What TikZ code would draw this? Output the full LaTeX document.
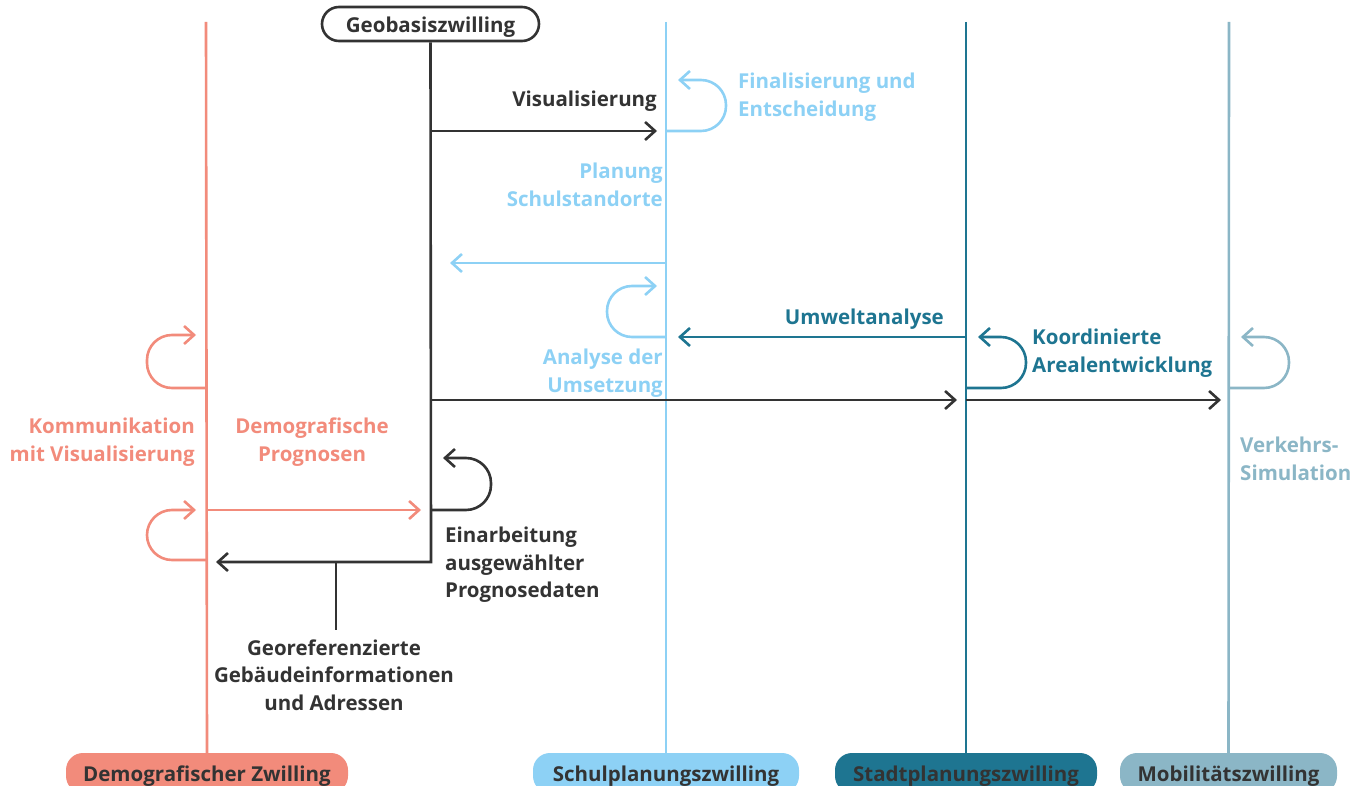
\documentclass[tikz,border=0pt]{standalone}
\usepackage{fontspec}
\setmainfont{Open Sans}
\usetikzlibrary{arrows.meta}
\definecolor{demo}{HTML}{F28B7B}
\definecolor{schul}{HTML}{8DD1F5}
\definecolor{stadt}{HTML}{1E7591}
\definecolor{mobil}{HTML}{8BB6C6}
\definecolor{ink}{HTML}{333333}
\tikzset{
  lane/.style={line width=2.6pt},
  flow/.style={line width=2.6pt,-{Straight Barb[length=10pt,width=18pt]}},
  loopflow/.style={flow,rounded corners=25pt},
  lbl/.style={inner sep=0pt,font=\fontsize{20.5}{27.5}\selectfont\bfseries},
  pill/.style={rounded corners=17pt,minimum height=40pt,inner sep=0pt,text height=16.6pt,text depth=0pt,text=ink,font=\fontsize{20.5}{24}\selectfont\bfseries},
}
\begin{document}
\begin{tikzpicture}[x=1pt,y=-1pt]
\useasboundingbox (0,0) rectangle (1352,786);
\clip (0,0) rectangle (1352,786);
% lane top coordinates
\coordinate (dT) at (206,22);
\coordinate (sT) at (666,22);
\coordinate (tT) at (966,22);
\coordinate (mT) at (1229,22);
% bottom pills
\node[pill,fill=demo,minimum width=282pt] (demoZ) at (207,773) {Demografischer Zwilling};
\node[pill,fill=schul,minimum width=266pt] (schulZ) at (666,773) {Schulplanungszwilling};
\node[pill,fill=stadt,minimum width=262pt] (stadtZ) at (966,773) {Stadtplanungszwilling};
\node[pill,fill=mobil,minimum width=217pt] (mobilZ) at (1228.5,773) {Mobilitätszwilling};
% top node
\node[pill,draw=ink,line width=2.6pt,fill=white,minimum width=217pt,minimum height=34pt] (geo) at (430.5,24) {Geobasiszwilling};
% lanes
\draw[lane,demo] (dT) -- (demoZ.north);
\draw[lane,schul] (sT) -- (schulZ.north);
\draw[lane,stadt] (tT) -- (stadtZ.north);
\draw[lane,mobil] (mT) -- (mobilZ.north);
% geobasis lane with corner
\coordinate (gCorner) at (431,562);
\coordinate (dIn) at (206,562);
\coordinate (gBranch) at (336,562);
\coordinate (gBranchEnd) at (336,630);
\draw[flow,ink] (geo.south) -- (gCorner) -- ([xshift=10pt]dIn);
\draw[lane,ink] (gBranch) -- (gBranchEnd);
% points on lanes
\coordinate (g131) at (431,131); \coordinate (s131) at (666,131);
\coordinate (s263) at (666,263); \coordinate (g263) at (431,263);
\coordinate (s337) at (666,337); \coordinate (t337) at (966,337);
\coordinate (g400) at (431,400); \coordinate (t400) at (966,400); \coordinate (m400) at (1229,400);
\coordinate (d510) at (206,510); \coordinate (g510) at (431,510);
% straight flows
\draw[flow,ink] (g131) -- ([xshift=-9pt]s131);
\draw[flow,schul] (s263) -- ([xshift=19pt]g263);
\draw[flow,stadt] (t337) -- ([xshift=12pt]s337);
\draw[flow,ink] (g400) -- ([xshift=-9pt]t400);
\draw[flow,ink] (t400) -- ([xshift=-8pt]m400);
\draw[flow,demo] (d510) -- ([xshift=-10pt]g510);
% loops
\draw[loopflow,schul] (s131) -- ++(60,0) -- ++(0,-51) -- ++(-48,0);
\draw[loopflow,schul] (666,337) -- ++(-59,0) -- ++(0,-51) -- ++(50,0);
\draw[loopflow,stadt] (966,388) -- ++(60,0) -- ++(0,-51) -- ++(-48,0);
\draw[loopflow,mobil] (1229,388) -- ++(60,0) -- ++(0,-51) -- ++(-48,0);
\draw[loopflow,demo] (206,388) -- ++(-59,0) -- ++(0,-53) -- ++(49,0);
\draw[loopflow,demo] (206,560) -- ++(-59,0) -- ++(0,-50) -- ++(49,0);
\draw[loopflow,ink] (431,510) -- ++(60,0) -- ++(0,-52) -- ++(-48,0);
% labels
\node[lbl,ink,anchor=east] (lVis) at (657,101) {Visualisierung};
\node[lbl,schul,anchor=west,align=left] (lFin) at (738,97) {Finalisierung und\\Entscheidung};
\node[lbl,schul,anchor=east,align=right] (lPlan) at (663,185) {Planung\\Schulstandorte};
\node[lbl,schul,anchor=east,align=right] (lAna) at (663,373) {Analyse der\\Umsetzung};
\node[lbl,stadt,anchor=east] (lUmw) at (944,319) {Umweltanalyse};
\node[lbl,stadt,anchor=west,align=left] (lKoo) at (1032,353) {Koordinierte\\Arealentwicklung};
\node[lbl,mobil,anchor=west,align=left] (lVer) at (1240,459) {Verkehrs-\\Simulation};
\node[lbl,demo,anchor=east,align=right] (lKom) at (195,442) {Kommunikation\\mit Visualisierung};
\node[lbl,demo,align=center] (lDem) at (312,442) {Demografische\\Prognosen};
\node[lbl,ink,anchor=west,align=left] (lEin) at (445,565) {Einarbeitung\\ausgewählter\\Prognosedaten};
\node[lbl,ink,align=center] (lGeo) at (334,675) {Georeferenzierte\\Gebäudeinformationen\\und Adressen};
\end{tikzpicture}
\end{document}
